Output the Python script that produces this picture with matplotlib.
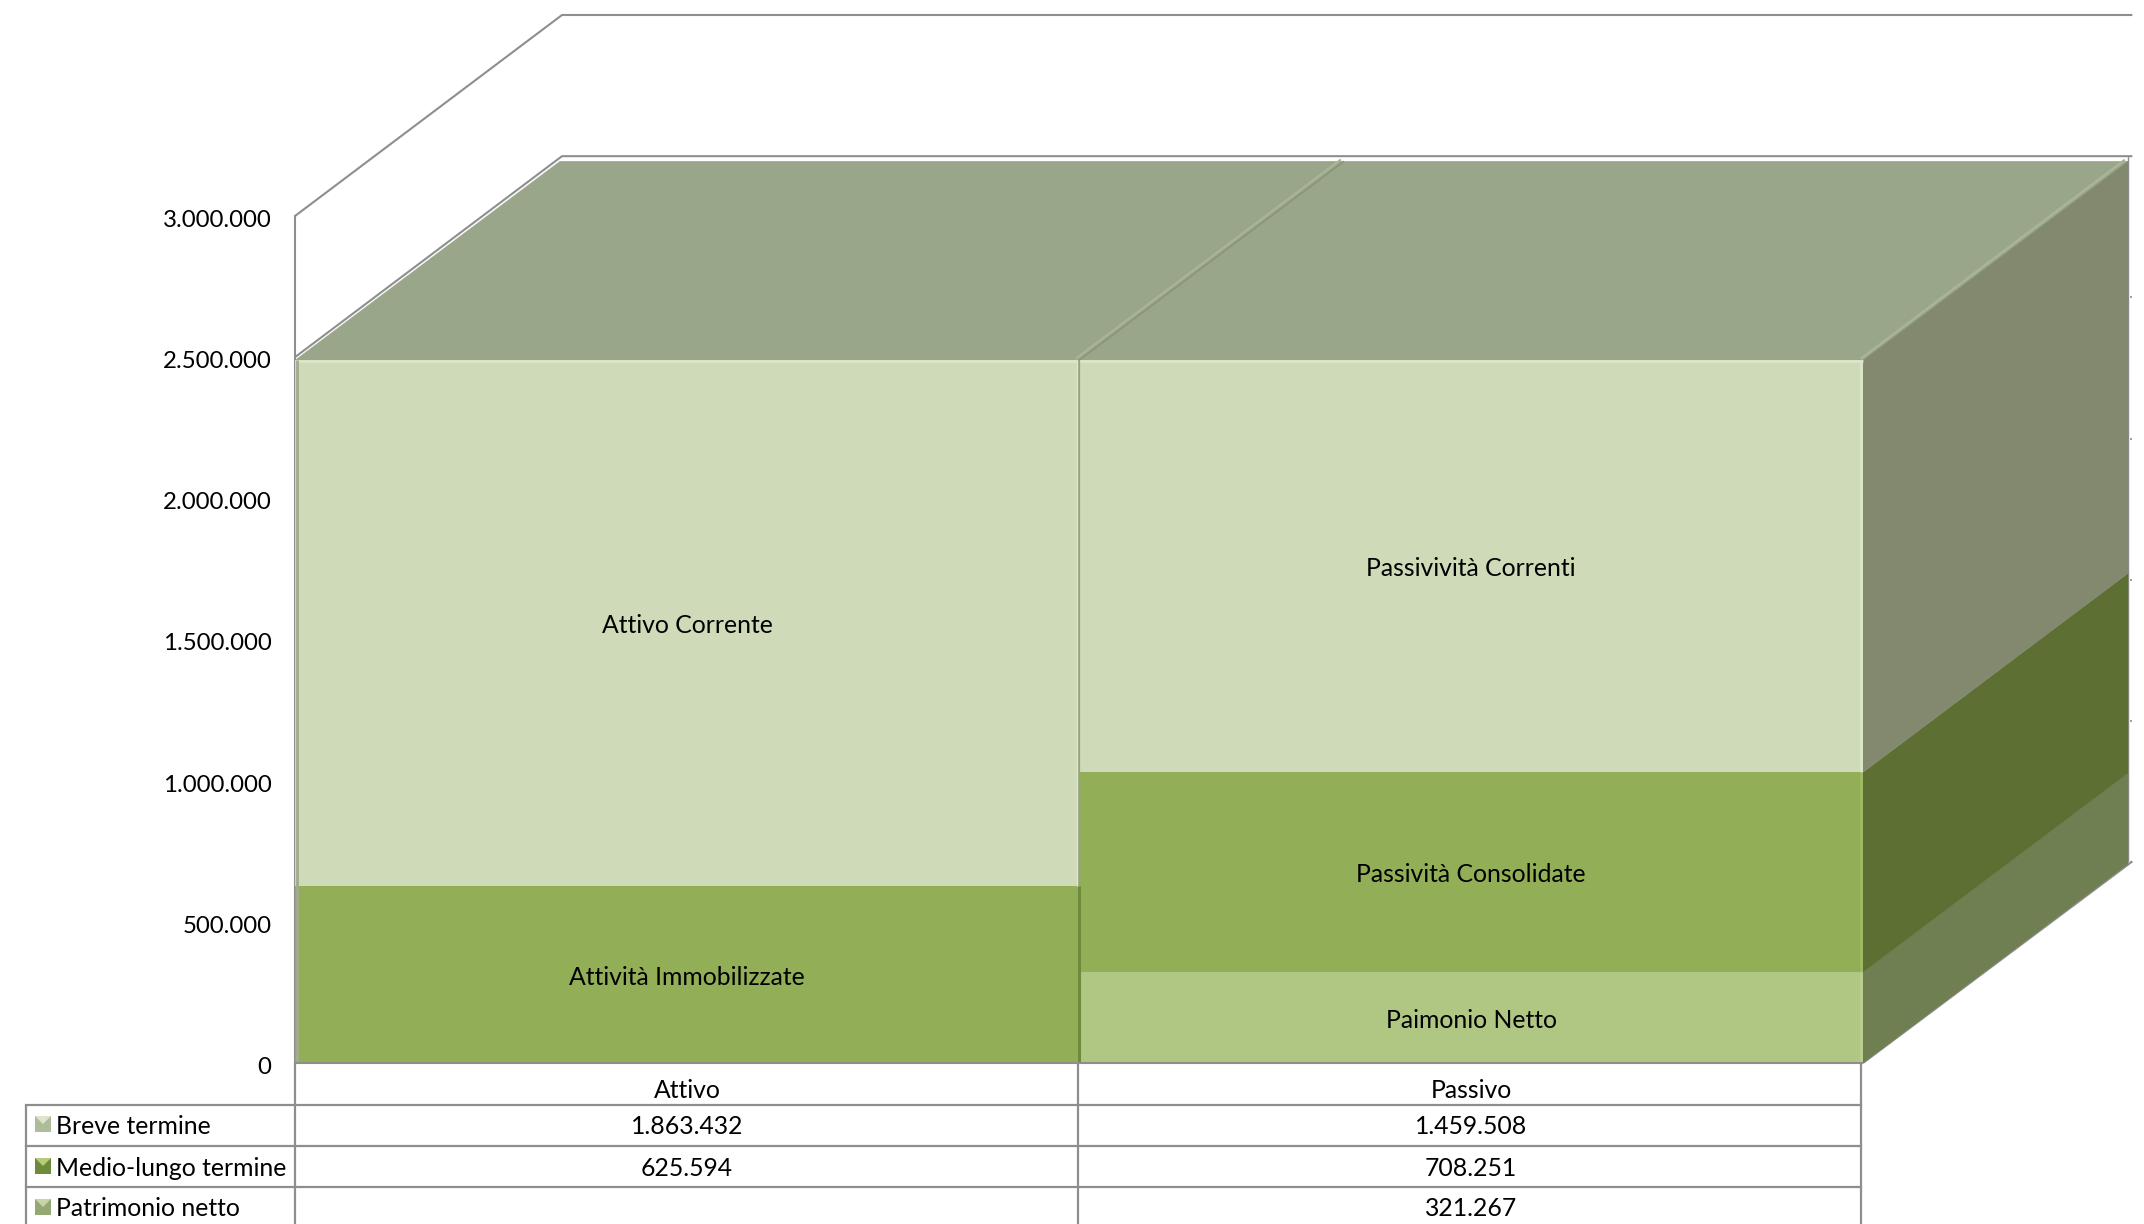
#!/usr/bin/env python3

import matplotlib.pyplot as plt
import numpy as np
from matplotlib.patches import Polygon, Rectangle
from matplotlib.transforms import Affine2D, ScaledTranslation, blended_transform_factory

plt.rcParams["font.family"] = ["Lato", "DejaVu Sans"]

# dati
categorie = ["Attivo", "Passivo"]
serie = ["Patrimonio netto", "Medio-lungo termine", "Breve termine"]
patrimonio = [0, 321267]
medio_lungo = [625594, 708251]
breve = [1863432, 1459508]
etichette_attivo = [None, "Attività Immobilizzate", "Attivo Corrente"]
etichette_passivo = ["Paimonio Netto", "Passività Consolidate", "Passivività Correnti"]
y_ticks = [0, 500000, 1000000, 1500000, 2000000, 2500000, 3000000]

W, H = 2144, 1224
GRID = "#8e8e8e"
TXT = 17.8

fig = plt.figure(figsize=(W / 100, H / 100), dpi=100)
# il piano frontale del grafico, il resto esce fuori dagli assi
ax = fig.add_axes([295 / W, 1 - 1063 / H, 1568 / W, 847 / H])
ax.set_xlim(0, 2)
ax.set_ylim(0, 3000000)
ax.patch.set_alpha(0)

# profondita' 3D in unita' dati
dx = 267 / 784
dy = 201 / 847 * 3000000

px = Affine2D().scale(1 / W, -1 / H).translate(0, 1) + fig.transFigure
x_px = blended_transform_factory(ax.transData, px)
giu = ScaledTranslation(0, -2.5 / 100, fig.dpi_scale_trans)

for s in ["top", "right", "bottom"]:
    ax.spines[s].set_visible(False)
ax.spines["left"].set_color(GRID)
ax.spines["left"].set_linewidth(1.5)
ax.set_xticks([])
ax.set_yticks(y_ticks)
ax.set_yticklabels([f"{v:,}".replace(",", ".") for v in y_ticks], fontsize=17.3)
ax.tick_params(axis="y", length=0, pad=17)
for lab in ax.get_yticklabels():
    lab.set_transform(lab.get_transform() + giu)


def linea(xs, ys, color=GRID, lw=1.5, z=2, **kw):
    ax.plot(xs, ys, color=color, lw=lw, zorder=z, clip_on=False,
            solid_capstyle="butt", **kw)


def faccia(pts, color, z=3):
    ax.add_patch(Polygon(pts, closed=True, facecolor=color, edgecolor=color,
                         lw=0.3, zorder=z, clip_on=False))


# pareti di fondo: griglia a 2.5M e 3M, pavimento, tacche a destra
for liv in y_ticks[-2:]:
    linea([0, dx, 2 + dx + 0.003], [liv, liv + dy, liv + dy])
linea([2, 2 + dx + 0.003], [0, dy * 1.003])
linea([2 + dx - 0.002] * 2, [0 + dy, 2500000 + dy], lw=1)
for liv in y_ticks[:-2]:
    linea([2 + dx, 2 + dx + 0.003], [liv + dy, liv + dy], lw=1.2)
linea([0, 2], [0, 0], z=6)

val = np.array([patrimonio, medio_lungo, breve], dtype=float)
basi = np.vstack([np.zeros(2), np.cumsum(val, axis=0)[:-1]])
tot = val.sum(axis=0)
fronte = ["#B0C783", "#92AF57", "#CFDBB8"]
lato = ["#6F7F52", "#5D6F32", "#82896F"]
sopra = "#99A68A"
sdx = dx * 265 / 267
sdy = dy * 199 / 201

for i in range(3):
    ax.bar([0, 1], val[i], bottom=basi[i], width=1, align="edge",
           color=fronte[i], linewidth=0, zorder=4)

# faccia superiore
for c in range(2):
    t = tot[c]
    faccia([(c, t), (c + 1, t), (c + 1 + sdx, t + sdy), (c + sdx, t + sdy)], sopra)

# faccia laterale della seconda colonna
for i in range(3):
    b, t = basi[i][1], basi[i][1] + val[i][1]
    faccia([(2, b), (2, t), (2 + sdx, t + sdy), (2 + sdx, b + sdy)], lato[i])

# smussi
linea([0, 2], [tot[0] - 4000, tot[0] - 4000], color="#DDE6CA", lw=1.8, z=5)
linea([2 - 0.002] * 2, [basi[2][1], tot[1]], color="#DDE6CA", lw=1.8, z=5)
linea([2 - 0.002] * 2, [basi[1][1], basi[2][1]], color="#9DBB62", lw=1.8, z=5)
linea([2 - 0.002] * 2, [0, basi[1][1]], color="#BBD090", lw=1.8, z=5)
linea([0.002] * 2, [0, tot[0]], color="#A2AC90", lw=2, z=5)
linea([1, 1], [basi[2][0], tot[0]], color="#97A184", lw=1.6, z=5)
linea([1, 1], [0, basi[2][0]], color="#6E8A3C", lw=2.2, z=5)
linea([1 - 0.003] * 2, [basi[2][0], tot[0]], color="#DDE6CA", lw=1, z=5)
linea([1, 1 + sdx], [tot[0], tot[0] + sdy], color="#8A9679", lw=1.2, z=4)
linea([1 - 0.004, 1 + sdx - 0.004], [tot[0] + 6000, tot[0] + sdy + 6000],
      color="#A9B498", lw=1.6, z=4)
linea([2 - 0.003, 2 + sdx - 0.004], [tot[1] + 5000, tot[1] + sdy + 5000],
      color="#A9B498", lw=1.8, z=4)

# etichette dentro le barre
for c, nomi in enumerate([etichette_attivo, etichette_passivo]):
    for i, nome in enumerate(nomi):
        if nome:
            ax.text(c + 0.5, basi[i][c] + val[i][c] / 2, nome, ha="center", va="center",
                    fontsize=TXT, color="black", zorder=7, transform=ax.transData + giu)

# tabella dati
righe_y = [1105, 1146, 1187]
for y in righe_y:
    ax.plot([26, 1861], [y, y], color=GRID, lw=1.6, transform=px, clip_on=False)
for x, y0 in [(26, 1105), (295, 1063), (1078, 1063), (1861, 1063)]:
    ax.plot([x, x], [y0, H], color=GRID, lw=1.6, transform=px, clip_on=False,
            solid_capstyle="butt")

for c, nome in enumerate(categorie):
    ax.text(c + 0.5, 1091, nome, transform=x_px, ha="center", va="center", fontsize=TXT)

centri_y = [1209, 1168, 1126]
chiari = ["#C7D3A8", "#B5CC78", "#DDE4CC"]
scuri = ["#93A873", "#6F8A3A", "#AFBC9C"]
for i in range(3):
    y = centri_y[i]
    ax.text(56, y, serie[i], transform=px, ha="left", va="center", fontsize=TXT)
    # quadratino della legenda
    ky = y - 2
    ax.add_patch(Rectangle((35, ky - 8), 16, 16, transform=px, facecolor=scuri[i],
                           edgecolor="none", clip_on=False))
    ax.add_patch(Polygon([(35, ky - 8), (51, ky - 8), (43, ky)], transform=px,
                         facecolor=chiari[i], edgecolor="none", clip_on=False))
    for c in range(2):
        if val[i][c]:
            ax.text(c + 0.5, y, f"{int(val[i][c]):,}".replace(",", "."), transform=x_px,
                    ha="center", va="center", fontsize=TXT)

fig.savefig("out.png", dpi=100)
